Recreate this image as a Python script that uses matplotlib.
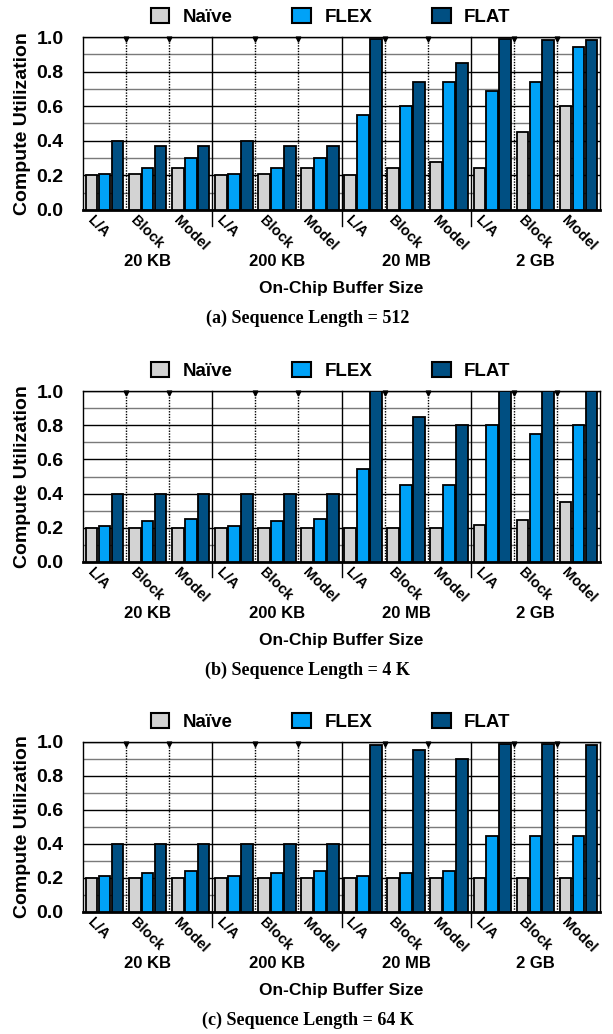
import numpy as np
import matplotlib.pyplot as plt
from matplotlib.patches import Patch
from matplotlib.ticker import MultipleLocator, FormatStrFormatter

plt.rcParams['font.family'] = ['Liberation Sans', 'DejaVu Sans']
plt.rcParams['font.weight'] = 'bold'

buffers = ['20 KB', '200 KB', '20 MB', '2 GB']
schemes = ['L/A', 'Block', 'Model']
methods = ['Naïve', 'FLEX', 'FLAT']
colors = ['#d3d3d3', '#00a2f7', '#004f82']

# utilization per (buffer, scheme), flattened: 20KB L/A, Block, Model, 200KB ...
naive_512 = [0.20, 0.21, 0.245, 0.20, 0.21, 0.245, 0.20, 0.245, 0.28, 0.245, 0.45, 0.60]
flex_512 = [0.21, 0.245, 0.30, 0.21, 0.245, 0.30, 0.55, 0.60, 0.74, 0.69, 0.74, 0.94]
flat_512 = [0.40, 0.37, 0.37, 0.40, 0.37, 0.37, 0.99, 0.74, 0.85, 0.99, 0.98, 0.98]

naive_4k = [0.20, 0.20, 0.20, 0.20, 0.20, 0.20, 0.20, 0.20, 0.20, 0.215, 0.245, 0.35]
flex_4k = [0.21, 0.24, 0.25, 0.21, 0.24, 0.25, 0.545, 0.45, 0.45, 0.80, 0.75, 0.80]
flat_4k = [0.40, 0.40, 0.40, 0.40, 0.40, 0.40, 1.00, 0.85, 0.80, 1.00, 1.00, 1.00]

naive_64k = [0.20, 0.20, 0.20, 0.20, 0.20, 0.20, 0.20, 0.20, 0.20, 0.20, 0.20, 0.20]
flex_64k = [0.21, 0.23, 0.24, 0.21, 0.23, 0.24, 0.21, 0.23, 0.24, 0.445, 0.445, 0.445]
flat_64k = [0.40, 0.40, 0.40, 0.40, 0.40, 0.40, 0.98, 0.955, 0.90, 0.99, 0.99, 0.98]

panels = [
    ('(a) Sequence Length = 512', [naive_512, flex_512, flat_512]),
    ('(b) Sequence Length = 4 K', [naive_4k, flex_4k, flat_4k]),
    ('(c) Sequence Length = 64 K', [naive_64k, flex_64k, flat_64k]),
]

W, H = 613, 1034
# (top, bottom) of each plot area in pixels
boxes = [(37, 210), (391, 562), (742, 912)]
left_px, right_px = 83, 600

fig = plt.figure(figsize=(W / 100, H / 100), dpi=100)
n = len(buffers) * len(schemes)
x = np.arange(n)
w = 0.27
offs = [-0.3, 0.0, 0.3]


def below(ax, xf, dy, s, **kw):
    # place text dy pixels under the bottom axis line
    ax.annotate(s, xy=(xf, 0), xycoords=('axes fraction', 'axes fraction'),
                xytext=(0, -dy), textcoords='offset pixels',
                ha='center', va='center', annotation_clip=False, **kw)


for (caption, series), (top, bot) in zip(panels, boxes):
    rect = [left_px / W, 1 - bot / H, (right_px - left_px) / W, (bot - top) / H]
    ax = fig.add_axes(rect)
    for vals, off, c, lab in zip(series, offs, colors, methods):
        ax.bar(x + off, vals, w, color=c, edgecolor='black', linewidth=1.3,
               label=lab, zorder=3)
    ax.set_xlim(-0.5, n - 0.5)
    ax.set_ylim(0, 1.0)
    ax.yaxis.set_major_locator(MultipleLocator(0.2))
    ax.yaxis.set_minor_locator(MultipleLocator(0.1))
    ax.yaxis.set_major_formatter(FormatStrFormatter('%.1f'))
    ax.grid(axis='y', which='major', color='black', linewidth=1.0, zorder=0)
    ax.grid(axis='y', which='minor', color='#7a7a7a', linewidth=1.0, zorder=0)
    ax.tick_params(axis='y', which='both', length=0, labelsize=14, pad=14)
    ax.set_xticks([])
    for s in ax.spines.values():
        s.set_linewidth(1.0)
    ax.spines['bottom'].set_linewidth(2.0)
    ax.set_ylabel('Compute Utilization', fontsize=14, fontweight='bold', labelpad=4)

    # separators: solid between buffer sizes, dotted between schemes
    xt = ax.get_xaxis_transform()
    for i in range(1, n):
        xb = i - 0.5
        if i % 3 == 0:
            ax.plot([xb, xb], [-0.09, 1.0], color='black', linewidth=1.0,
                    clip_on=False, transform=xt, zorder=4)
        else:
            ax.plot([xb, xb], [0, 1.0], color='black', linewidth=1.0,
                    linestyle=(0, (1, 1)), zorder=4, transform=xt)
            ax.plot([xb], [0.99], marker='v', color='black', markersize=3.5,
                    clip_on=False, transform=xt, zorder=5)

    # scheme labels under each cluster
    for i in range(n):
        ax.text(i - 0.23, -0.02, schemes[i % 3], rotation=-45,
                rotation_mode='anchor', ha='left', va='top', fontsize=10.5,
                fontweight='bold', transform=xt)
    for g, b in enumerate(buffers):
        below(ax, (3 * g + 1.5) / n, 52, b, fontsize=12, fontweight='bold')
    below(ax, 0.5, 78, 'On-Chip Buffer Size', fontsize=12.5, fontweight='bold')
    below(ax, 0.435, 108, caption, fontsize=13, fontweight='bold',
          family='Liberation Serif')

    handles = [Patch(facecolor=c, edgecolor='black', linewidth=1.5) for c in colors]
    ax.legend(handles, methods, loc='center', bbox_to_anchor=(0.479, 1.0 + 20 / (bot - top)),
              ncol=3, frameon=False, columnspacing=3.2,
              handlelength=1.0, handleheight=0.9, handletextpad=0.7,
              borderaxespad=0.0, prop={'weight': 'bold', 'size': 13.5})

fig.savefig('out.png', dpi=100)
